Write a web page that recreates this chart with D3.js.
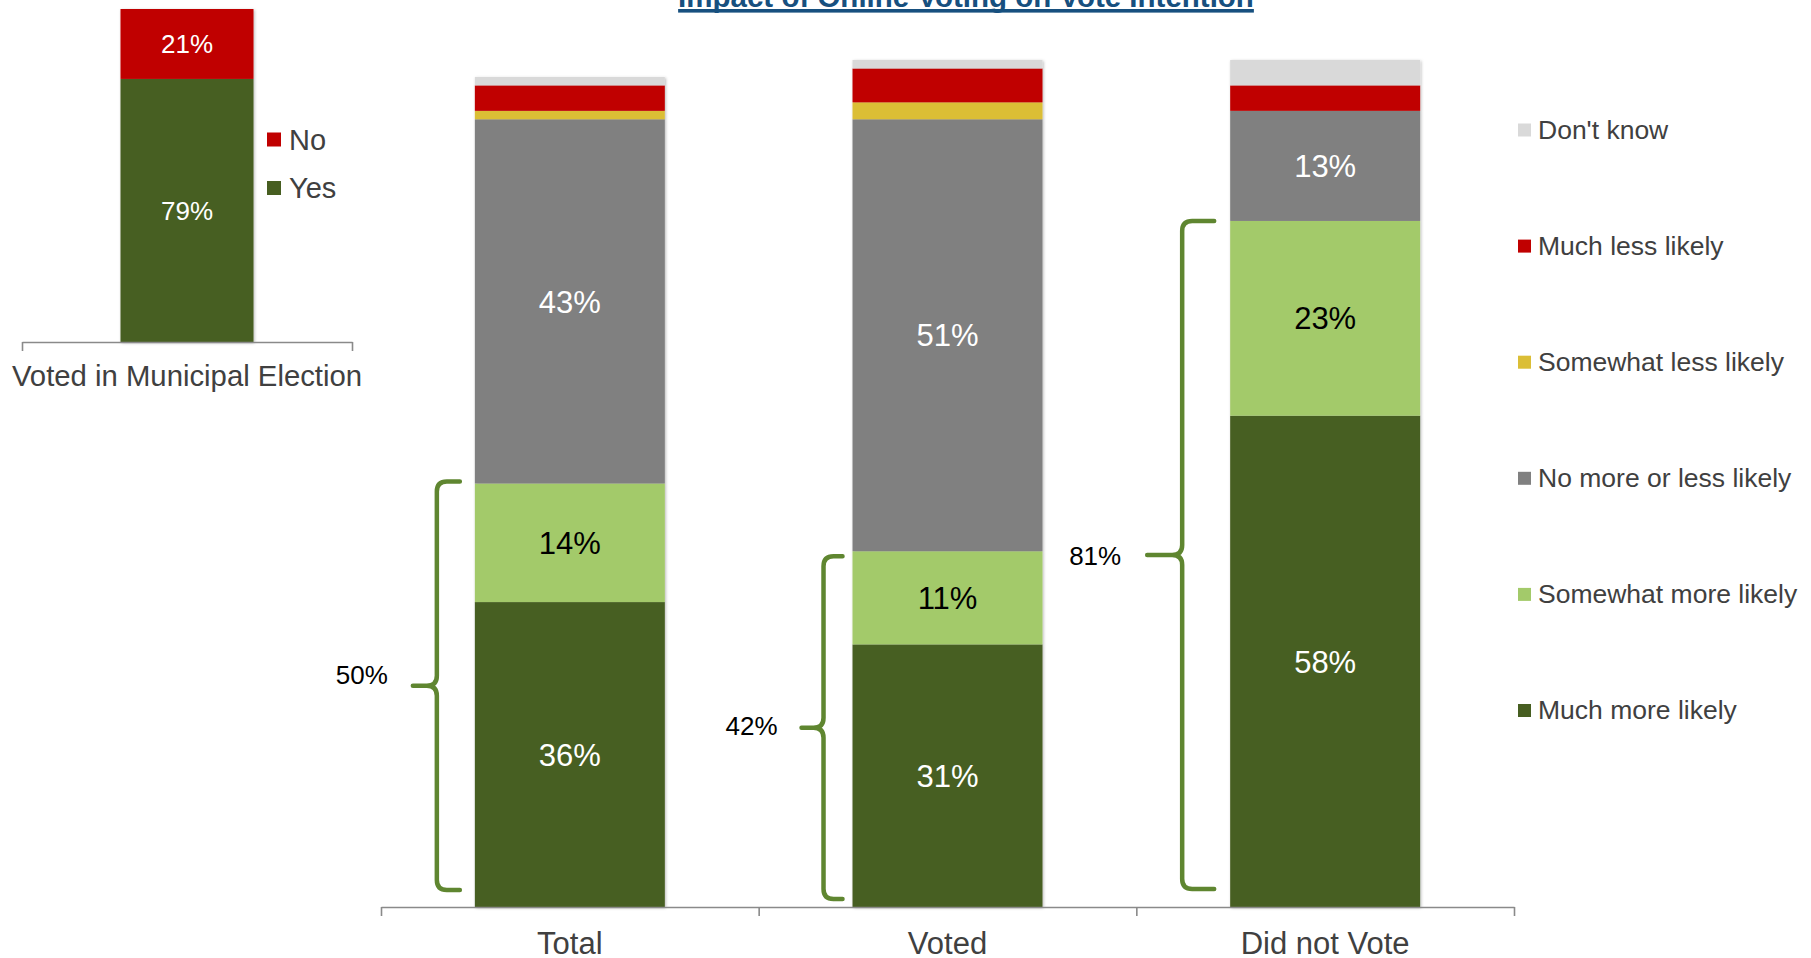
<!DOCTYPE html>
<html>
<head>
<meta charset="utf-8">
<script src="https://cdn.jsdelivr.net/npm/d3@7"></script>
<style>
  html, body { margin: 0; padding: 0; background: #ffffff; }
  svg { display: block; font-family: "Liberation Sans", Arial, sans-serif; }
</style>
</head>
<body>
<svg id="chart" width="1811" height="958"></svg>
<script>
// ---- Data ----------------------------------------------------------------
const chartTitle = "Impact of Online Voting on Vote Intention";

// Left panel: turnout in the last municipal election
const turnoutCategories = ["Voted in Municipal Election"];
const turnoutSeries = ["Yes", "No"];
const turnoutYes = [79];
const turnoutNo = [21];

// Main panel: likelihood of voting if online voting were available
const groups = ["Total", "Voted", "Did not Vote"];
const responses = [
  "Much more likely",
  "Somewhat more likely",
  "No more or less likely",
  "Somewhat less likely",
  "Much less likely",
  "Don't know"
];
const muchMoreLikely      = [36, 31, 58];
const somewhatMoreLikely  = [14, 11, 23];
const noMoreOrLessLikely  = [43, 51, 13];
const somewhatLessLikely  = [1, 2, 0];
const muchLessLikely      = [3, 4, 3];
const dontKnow            = [1, 1, 3];

// ---- Styling -------------------------------------------------------------
const responseColors = {
  "Much more likely": "#475E21",
  "Somewhat more likely": "#A3CA6A",
  "No more or less likely": "#808080",
  "Somewhat less likely": "#DBBE36",
  "Much less likely": "#C00000",
  "Don't know": "#D9D9D9"
};
const labelColors = {
  "Much more likely": "#ffffff",
  "Somewhat more likely": "#000000",
  "No more or less likely": "#ffffff"
};
const turnoutColors = { "Yes": "#475E21", "No": "#C00000" };
const textGray = "#404040";
const axisGray = "#8a8a8a";
const braceGreen = "#5F8630";

const svg = d3.select("#chart");

const defs = svg.append("defs");
defs.append("filter")
  .attr("id", "barShadow")
  .attr("x", "-20%").attr("y", "-5%")
  .attr("width", "140%").attr("height", "110%")
  .append("feDropShadow")
  .attr("dx", 1).attr("dy", 1)
  .attr("stdDeviation", 1.6)
  .attr("flood-color", "#000")
  .attr("flood-opacity", 0.28);

// ---- Title -----------------------------------------------------------------
const titleX = 966;
const title = svg.append("text")
  .attr("x", titleX).attr("y", 7)
  .attr("text-anchor", "middle")
  .attr("font-size", 29.5).attr("font-weight", "bold")
  .attr("fill", "#17507F")
  .text(chartTitle);
const titleW = title.node().getComputedTextLength();
svg.append("rect")
  .attr("x", titleX - titleW / 2).attr("y", 9)
  .attr("width", titleW).attr("height", 3.6)
  .attr("fill", "#17507F");

// ---- Left panel: turnout -------------------------------------------------
{
  const x = d3.scaleBand().domain(turnoutCategories).range([22, 352]).padding(0.4255);
  const y = d3.scaleLinear().domain([0, 100]).range([342, 9]);

  const rows = turnoutCategories.map((c, i) => ({ category: c, Yes: turnoutYes[i], No: turnoutNo[i] }));
  const stacked = d3.stack().keys(turnoutSeries)(rows);

  const bars = svg.append("g").selectAll("g.bar")
    .data(rows).join("g").attr("class", "bar").attr("filter", "url(#barShadow)");
  stacked.forEach(layer => {
    bars.append("rect")
      .attr("x", (d, i) => x(d.category))
      .attr("width", x.bandwidth())
      .attr("y", (d, i) => y(layer[i][1]))
      .attr("height", (d, i) => y(layer[i][0]) - y(layer[i][1]))
      .attr("fill", turnoutColors[layer.key]);
  });
  const labels = svg.append("g");
  stacked.forEach(layer => {
    layer.forEach((seg, i) => {
      const v = seg[1] - seg[0];
      labels.append("text")
        .attr("x", x(rows[i].category) + x.bandwidth() / 2)
        .attr("y", (y(seg[0]) + y(seg[1])) / 2 + 0.36 * 26)
        .attr("text-anchor", "middle")
        .attr("font-size", 26).attr("fill", "#ffffff")
        .text(v + "%");
    });
  });

  const edge = d3.scaleLinear().domain([0, 1]).range([22, 352]);
  svg.append("g")
    .attr("transform", "translate(0,342)")
    .call(d3.axisBottom(edge).tickValues([0, 1]).tickSize(9).tickSizeOuter(0).tickFormat(""))
    .call(g => g.selectAll("path, line").attr("stroke", axisGray).attr("stroke-width", 1.6));

  svg.append("g").selectAll("text")
    .data(turnoutCategories).join("text")
    .attr("x", d => x(d) + x.bandwidth() / 2)
    .attr("y", 386)
    .attr("text-anchor", "middle")
    .attr("font-size", 29.3).attr("fill", textGray)
    .text(d => d);

  // legend (No above Yes)
  const legendY = d3.scalePoint().domain(["No", "Yes"]).range([139.5, 188]);
  const lg = svg.append("g").selectAll("g").data(["No", "Yes"]).join("g")
    .attr("transform", d => `translate(267,${legendY(d)})`);
  lg.append("rect").attr("x", 0).attr("y", -7).attr("width", 14).attr("height", 14)
    .attr("fill", d => turnoutColors[d]);
  lg.append("text").attr("x", 22).attr("y", 0.36 * 29)
    .attr("font-size", 29).attr("fill", textGray).text(d => d);
}

// ---- Main panel: stacked bars by group -----------------------------------
const series = [muchMoreLikely, somewhatMoreLikely, noMoreOrLessLikely,
                somewhatLessLikely, muchLessLikely, dontKnow];
const table = groups.map((g, i) => {
  const row = { group: g };
  responses.forEach((r, k) => { row[r] = series[k][i]; });
  return row;
});

const x = d3.scaleBand().domain(groups).range([381, 1514]).paddingInner(0.497).paddingOuter(0.2485);
const y = d3.scaleLinear().domain([0, 100]).range([907, 60]);

const stack = d3.stack().keys(responses)(table);

const barGroups = svg.append("g").selectAll("g.bar")
  .data(table).join("g").attr("class", "bar").attr("filter", "url(#barShadow)");
stack.forEach(layer => {
  barGroups.append("rect")
    .attr("x", d => x(d.group))
    .attr("width", x.bandwidth())
    .attr("y", (d, i) => y(layer[i][1]))
    .attr("height", (d, i) => y(layer[i][0]) - y(layer[i][1]))
    .attr("fill", responseColors[layer.key]);
});

const valueLabels = svg.append("g");
stack.forEach(layer => {
  if (!labelColors[layer.key]) return;
  layer.forEach((seg, i) => {
    const v = seg[1] - seg[0];
    valueLabels.append("text")
      .attr("x", x(groups[i]) + x.bandwidth() / 2)
      .attr("y", (y(seg[0]) + y(seg[1])) / 2 + 0.36 * 31)
      .attr("text-anchor", "middle")
      .attr("font-size", 31)
      .attr("fill", labelColors[layer.key])
      .text(v + "%");
  });
});

// axis with separators between groups
const bounds = d3.scaleLinear().domain([0, groups.length]).range([381, 1514]);
svg.append("g")
  .attr("transform", "translate(0,907)")
  .call(d3.axisBottom(bounds).tickValues(d3.range(groups.length + 1)).tickSize(9).tickSizeOuter(0).tickFormat(""))
  .call(g => g.selectAll("path, line").attr("stroke", axisGray).attr("stroke-width", 1.6));

svg.append("g").selectAll("text")
  .data(groups).join("text")
  .attr("x", d => x(d) + x.bandwidth() / 2)
  .attr("y", 954)
  .attr("text-anchor", "middle")
  .attr("font-size", 31).attr("fill", textGray)
  .text(d => d);

// ---- Braces marking "more likely" totals -----------------------------------
const moreLikely = groups.map((g, i) => muchMoreLikely[i] + somewhatMoreLikely[i]);
// offsets relative to each bar's left edge / top of the bracketed range
const braceLayout = [
  { end: -15, spine: -38, tip: -62, label: -113, topDy: -2, bottomInset: 17, labelDy: -11 },
  { end: -10, spine: -29, tip: -51, label: -101, topDy: 5,  bottomInset: 8,  labelDy: -2 },
  { end: -16, spine: -48, tip: -83, label: -135, topDy: 0,  bottomInset: 18, labelDy: 1 }
];
const braces = svg.append("g");
groups.forEach((g, i) => {
  const L = braceLayout[i];
  const left = x(g);
  const xe = left + L.end, xs = left + L.spine, xt = left + L.tip;
  const yt = y(moreLikely[i]) + L.topDy;
  const yb = y(0) - L.bottomInset;
  const ym = (yt + yb) / 2;
  const r = 10;
  const p = d3.path();
  p.moveTo(xe, yt);
  p.lineTo(xs + r, yt);
  p.quadraticCurveTo(xs, yt, xs, yt + r);
  p.lineTo(xs, ym - r);
  p.quadraticCurveTo(xs, ym, xs - r, ym);
  p.lineTo(xt, ym);
  p.moveTo(xs - r, ym);
  p.quadraticCurveTo(xs, ym, xs, ym + r);
  p.lineTo(xs, yb - r);
  p.quadraticCurveTo(xs, yb, xs + r, yb);
  p.lineTo(xe, yb);
  braces.append("path")
    .attr("d", p.toString())
    .attr("fill", "none")
    .attr("stroke", braceGreen)
    .attr("stroke-width", 4.5)
    .attr("stroke-linecap", "round")
    .attr("stroke-linejoin", "round");
  braces.append("text")
    .attr("x", left + L.label)
    .attr("y", ym + L.labelDy + 0.36 * 26)
    .attr("text-anchor", "middle")
    .attr("font-size", 26).attr("fill", "#000000")
    .text(moreLikely[i] + "%");
});

// ---- Legend ----------------------------------------------------------------
const legendOrder = responses.slice().reverse();
const legendY = d3.scalePoint().domain(legendOrder).range([129, 709.5]);
const legend = svg.append("g").selectAll("g").data(legendOrder).join("g")
  .attr("transform", d => `translate(1518,${legendY(d)})`);
legend.append("rect").attr("x", 0).attr("y", -5.5).attr("width", 13).attr("height", 13)
  .attr("fill", d => responseColors[d]);
legend.append("text").attr("x", 20).attr("y", 0.36 * 26.5)
  .attr("font-size", 26.5).attr("fill", textGray).text(d => d);
</script>
</body>
</html>
